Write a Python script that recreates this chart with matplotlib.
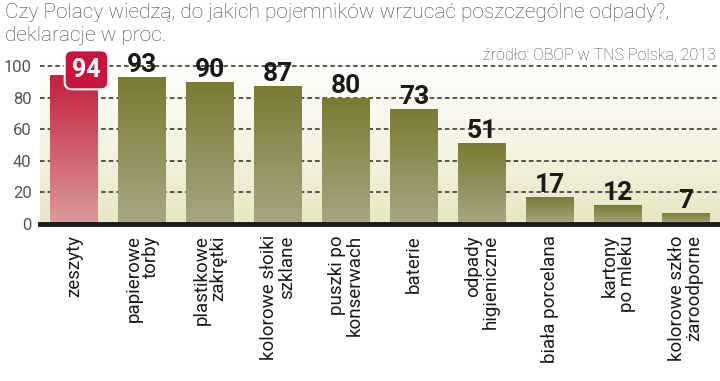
import numpy as np
import matplotlib
matplotlib.use("Agg")
import matplotlib.pyplot as plt
from matplotlib.colors import LinearSegmentedColormap

categories = ["zeszyty", "papierowe\ntorby", "plastikowe\nzakrętki", "kolorowe słoiki\nszklane",
              "puszki po\nkonserwach", "baterie", "odpady\nhigieniczne", "biała porcelana",
              "kartony\npo mleku", "kolorowe szkło\nżaroodporne"]
values = [94, 93, 90, 87, 80, 73, 51, 17, 12, 7]
yticks = [0, 20, 40, 60, 80, 100]

title = "Czy Polacy wiedzą, do jakich pojemników wrzucać poszczególne odpady?,\ndeklaracje w proc."
source = "źródło: OBOP w TNS Polska, 2013"

FAM = ["Roboto", "DejaVu Sans"]

fig = plt.figure(figsize=(7.2, 3.81), dpi=100)
ax = fig.add_axes([40/720, 157/381, 680/720, 166/381])
ax.set_xlim(-0.5, len(values) - 0.5)
ax.set_ylim(0, 105)

# background gradient
bg = LinearSegmentedColormap.from_list("bg", ["#e9e6c4", "#f6f4e4", "#ffffff"])
grad = np.linspace(0, 1, 256).reshape(-1, 1)
ax.imshow(grad, cmap=bg, origin="lower", aspect="auto",
          extent=(-0.5, len(values) - 0.5, 0, 105), zorder=0)

for y in yticks[1:]:
    ax.axhline(y, color="#2a2a2a", lw=1.1, dashes=(3, 2), zorder=1)

olive = LinearSegmentedColormap.from_list("ol", ["#a8a684", "#7b7a32"])
red = LinearSegmentedColormap.from_list("rd", ["#dc9a9c", "#c4213f"])
bars = ax.bar(range(len(values)), values, width=0.7, color="none", zorder=2)
for i, (b, v) in enumerate(zip(bars, values)):
    cm = red if i == 0 else olive
    x0 = b.get_x()
    im = ax.imshow(grad, cmap=cm, origin="lower", aspect="auto",
                   extent=(x0, x0 + b.get_width(), 0, v), zorder=2)
    im.set_clip_path(b)
    if i == 0:
        ax.annotate(str(v), (i, v), xytext=(9, 4), textcoords="offset points",
                    ha="center", va="center", color="white", fontsize=18, fontweight="bold",
                    family=FAM, zorder=5,
                    bbox=dict(boxstyle="round,pad=0.3,rounding_size=0.3", fc="#c8153e", ec="white", lw=1.5))
    else:
        ax.annotate(str(v), (i, v), xytext=(0, 0), textcoords="offset points",
                    ha="center", va="bottom", color="#1a1a1a", fontsize=19, fontweight="bold",
                    family=FAM, zorder=5)

ax.axhline(0, color="#1a1a1a", lw=3.5, zorder=4, clip_on=False)

for s in ax.spines.values():
    s.set_visible(False)
ax.set_yticks(yticks)
ax.set_yticklabels([str(t) for t in yticks], fontsize=12, color="#555555", family=FAM)
ax.tick_params(axis="y", length=0, pad=6)
ax.set_xticks(range(len(values)))
ax.set_xticklabels(categories, rotation=90, fontsize=13.5, color="#1a1a1a", family=FAM,
                   va="top", ha="center", multialignment="right", linespacing=0.95)
ax.tick_params(axis="x", length=0, pad=8)

fig.text(5/720, 1 - 3/381, title, ha="left", va="top", fontsize=15, color="#444444",
         family=FAM, fontweight="light", linespacing=1.25)
fig.text(716/720, 1 - 55/381, source, ha="right", va="center", fontsize=11.5, color="#444444",
         family=FAM, fontweight="light")

fig.savefig("out.png", dpi=100)
